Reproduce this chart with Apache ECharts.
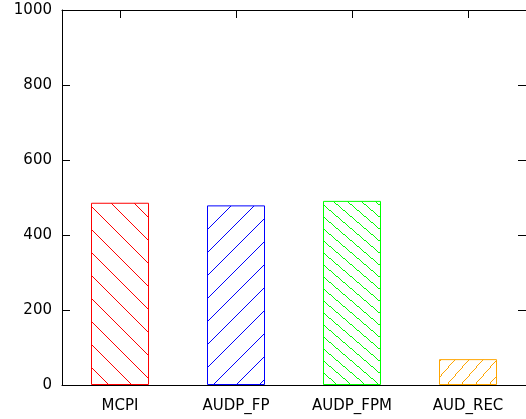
<!DOCTYPE html>
<html>
<head>
<meta charset="utf-8">
<script src="https://cdn.jsdelivr.net/npm/echarts@6/dist/echarts.min.js"></script>
<style>
  html, body { margin: 0; padding: 0; background: #fff; }
  #chart { width: 526px; height: 419px; }
</style>
</head>
<body>
<div id="chart"></div>
<script>
// Benchmarks and their measured values
var categories = ['MCPI', 'AUDP_FP', 'AUDP_FPM', 'AUD_REC'];
var values = [486, 479, 491, 69];
var barColors = ['#ff0000', '#0000ff', '#00ff00', '#ffa500'];
var yTicks = { min: 0, max: 1000, interval: 200 };

// Hatch tile on a white ground: one aliased diagonal line per tile, tiled seamlessly.
// dir '\\' runs top-left to bottom-right, '/' runs bottom-left to top-right.
function hatch(color, w, h, dir) {
  var c = document.createElement('canvas');
  c.width = w; c.height = h;
  var ctx = c.getContext('2d');
  ctx.fillStyle = '#fff';
  ctx.fillRect(0, 0, w, h);
  ctx.fillStyle = color;
  var n = Math.max(w, h);
  for (var i = 0; i < n; i++) {
    var x = Math.floor(i * w / n);
    var y = Math.floor(i * h / n);
    if (dir === '/') y = h - 1 - y;
    ctx.fillRect(x, y, 1, 1);
  }
  return c;
}

var hatchStyles = [
  { w: 23, h: 23, dir: '\\' },
  { w: 23, h: 23, dir: '/' },
  { w: 14, h: 12, dir: '\\' },
  { w: 14, h: 16, dir: '/' }
];

var barData = values.map(function (v, i) {
  var s = hatchStyles[i];
  return {
    value: v,
    itemStyle: {
      color: { image: hatch(barColors[i], s.w, s.h, s.dir), repeat: 'repeat' },
      borderColor: barColors[i],
      borderWidth: 1
    }
  };
});

function font() { return { fontFamily: 'DejaVu Sans', fontSize: 15, color: '#000' }; }
function frameLine() { return { show: true, onZero: false, lineStyle: { color: '#000', width: 1 } }; }
function innerTick(alignLabel) {
  return { show: true, inside: true, length: 8, alignWithLabel: !!alignLabel, lineStyle: { color: '#000', width: 1 } };
}

var chart = echarts.init(document.getElementById('chart'), null, { renderer: 'canvas' });
chart.setOption({
  animation: false,
  backgroundColor: '#fff',
  grid: { left: 62, top: 10, width: 470, height: 375, containLabel: false },
  xAxis: [
    {
      type: 'category', data: categories, position: 'bottom',
      axisLine: frameLine(),
      axisTick: innerTick(true),
      axisLabel: Object.assign({ margin: 14 }, font()),
      splitLine: { show: false }
    },
    {
      type: 'category', data: categories, position: 'top',
      axisLine: frameLine(),
      axisTick: innerTick(true),
      axisLabel: { show: false },
      splitLine: { show: false }
    }
  ],
  yAxis: [
    {
      type: 'value', position: 'left',
      min: yTicks.min, max: yTicks.max, interval: yTicks.interval,
      axisLine: frameLine(),
      axisTick: innerTick(false),
      axisLabel: Object.assign({ margin: 10, formatter: function (v) { return String(v); } }, font()),
      splitLine: { show: false }
    },
    {
      type: 'value', position: 'right',
      min: yTicks.min, max: yTicks.max, interval: yTicks.interval,
      axisLine: frameLine(),
      axisTick: innerTick(false),
      axisLabel: { show: false },
      splitLine: { show: false }
    }
  ],
  series: [
    {
      type: 'bar', xAxisIndex: 0, yAxisIndex: 0,
      barWidth: '50%',
      data: barData
    }
  ]
});
</script>
</body>
</html>
